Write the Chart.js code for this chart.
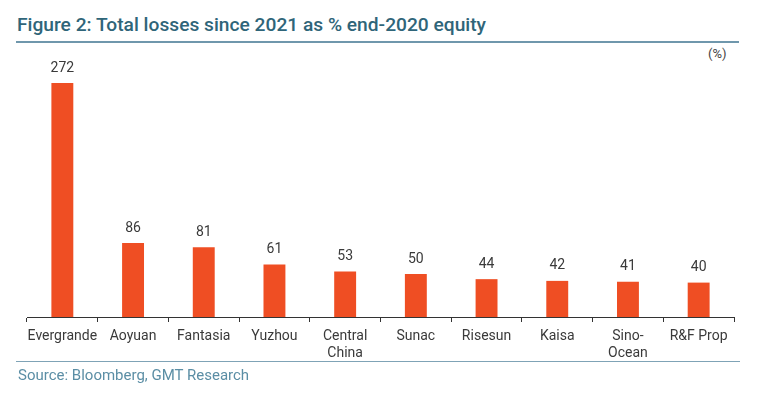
<!DOCTYPE html>
<html>
<head>
<meta charset="utf-8">
<script src="https://cdn.jsdelivr.net/npm/chart.js@4/dist/chart.umd.min.js"></script>
<style>
  html, body { margin: 0; padding: 0; background: #fff; }
  body { width: 775px; height: 397px; position: relative; overflow: hidden; font-family: Roboto, sans-serif; }
  .title { position: absolute; left: 17px; top: 13px; font-size: 19.2px; font-weight: 500; color: #2f6579; white-space: nowrap; }
  .rule-top { position: absolute; left: 16px; top: 41px; width: 723px; height: 2px; background: #6f97ac; }
  .unit { position: absolute; left: 708px; top: 46px; font-size: 13px; color: #444; }
  .rule-bottom { position: absolute; left: 16px; top: 361px; width: 724px; height: 1px; background: #7fa3b6; }
  .source { position: absolute; left: 18px; top: 366px; font-size: 15px; color: #5b8ea5; white-space: nowrap; }
  .wrap { position: absolute; left: 0; top: 0; width: 775px; height: 397px; }
</style>
</head>
<body>
<div class="title">Figure 2: Total losses since 2021 as % end-2020 equity</div>
<div class="rule-top"></div>
<div class="unit">(%)</div>
<div class="wrap"><canvas class="canvas"></canvas></div>
<div class="rule-bottom"></div>
<div class="source">Source: Bloomberg, GMT Research</div>
<script>
var companies = ['Evergrande', 'Aoyuan', 'Fantasia', 'Yuzhou', ['Central', 'China'], 'Sunac', 'Risesun', 'Kaisa', ['Sino-', 'Ocean'], 'R&F Prop']
var losses = [272, 86, 81, 61, 53, 50, 44, 42, 41, 40]

// value labels above each bar
var barLabels = {
    id: 'barLabels',
    afterDatasetsDraw(chart) {
        var ctx = chart.ctx
        var meta = chart.getDatasetMeta(0)
        ctx.save()
        ctx.font = '14px Roboto'
        ctx.fillStyle = '#3a3a3a'
        ctx.textAlign = 'center'
        ctx.textBaseline = 'middle'
        meta.data.forEach((bar, i) => {
            ctx.fillText(losses[i], bar.x, bar.y - 15)
        })
        ctx.restore()
    }
}

var ctx = document.querySelector('.canvas').getContext('2d')
var myChart = new Chart(ctx, {
    type: 'bar',
    data: {
        labels: companies,
        datasets: [{
            label: 'Total losses since 2021 as % end-2020 equity',
            data: losses,
            backgroundColor: '#ef4e23',
            barPercentage: 0.31,
            categoryPercentage: 1
        }]
    },
    options: {
        responsive: true,
        maintainAspectRatio: false,
        animation: false,
        layout: { padding: { left: 27, right: 41, top: 59, bottom: 0 } },
        plugins: {
            legend: { display: false },
            tooltip: { enabled: false }
        },
        scales: {
            x: {
                grid: { drawOnChartArea: false, drawTicks: true, tickLength: 5, color: '#333', offset: true },
                border: { display: true, color: '#333', width: 1 },
                ticks: { color: '#3a3a3a', font: { family: 'Roboto', size: 14, lineHeight: 1.2 }, padding: 6, maxRotation: 0, autoSkip: false },
                afterFit: function(scale) { scale.height = 80 }
            },
            y: {
                display: false,
                min: 0,
                max: 300
            }
        }
    },
    plugins: [barLabels]
})
</script>
</body>
</html>
